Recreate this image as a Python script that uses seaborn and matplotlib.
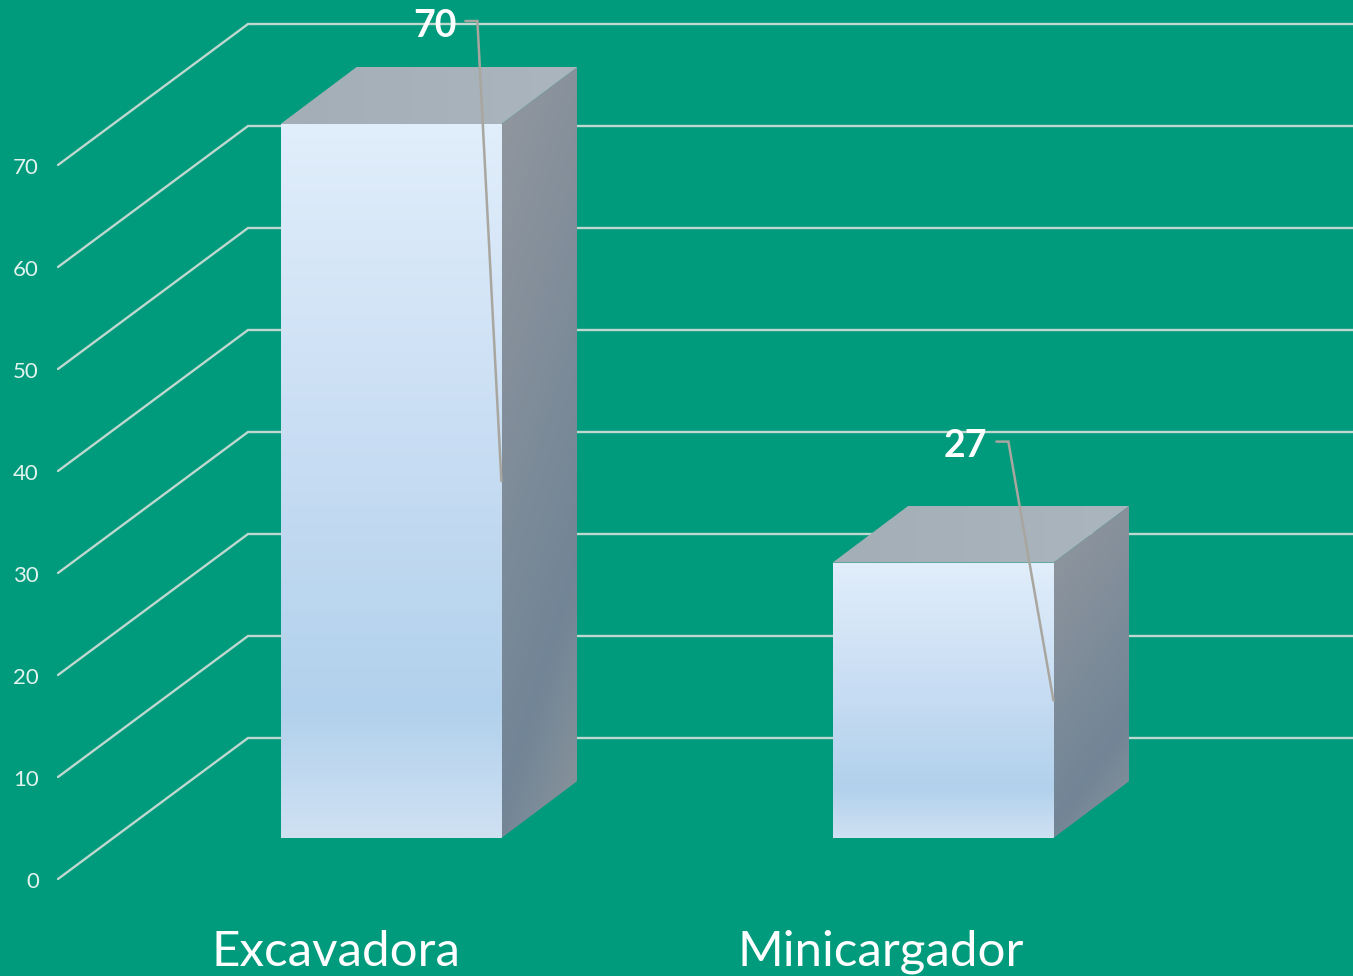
import numpy as np
import pandas as pd
import matplotlib.pyplot as plt
from matplotlib.colors import LinearSegmentedColormap
from matplotlib.patches import Polygon
import seaborn as sns

# Values
categories = ['Excavadora', 'Minicargador']
values = [70, 27]
axis_ticks = [0, 10, 20, 30, 40, 50, 60, 70]

bg = '#009B7C'
grid_color = '#BFD8CF'
leader_color = '#A9A6A0'

sns.set_theme(style='white', font='Lato')
plt.rcParams['font.family'] = ['Lato', 'DejaVu Sans']

W, H = 1353, 976
fig = plt.figure(figsize=(W / 100, H / 100), dpi=100, facecolor=bg)
ax = fig.add_axes([0, 0, 1, 1])

df = pd.DataFrame({'category': categories, 'value': values})
sns.barplot(data=df, x='category', y='value', width=0.4, color='#CBDFF4', ax=ax, zorder=3, linewidth=0)

# scale: one category step = 552 px, ten units = 102 px
xstep, ystep = 552.0, 10.2
ax.set_xlim(-391 / xstep, (W - 391) / xstep)
ax.set_ylim((838 - H) / ystep, 838 / ystep)
ax.axis('off')

# depth of the fake 3D box and of the walls
box_dx, box_dy = 76 / xstep, 57 / ystep
wall_dx, wall_dy = 190 / xstep, 141 / ystep
wall_x0, wall_y0 = (58 - 391) / xstep, (838 - 879) / ystep

for t in axis_ticks:
    x1, y1 = wall_x0 + wall_dx, wall_y0 + t + wall_dy
    ax.plot([wall_x0, x1, (W - 391) / xstep], [wall_y0 + t, y1, y1],
            color=grid_color, lw=1.7, zorder=1, solid_joinstyle='miter')
    ax.text(wall_x0 - 19 / xstep, wall_y0 + t - 0.3, str(t), color='#E4F3EE', fontsize=16,
            ha='right', va='center', zorder=5)

front_cmap = LinearSegmentedColormap.from_list(
    'front', [(0, '#E1EEFB'), (0.4, '#CBDFF4'), (0.82, '#B2D1EC'), (1, '#CFE1F3')])
side_cmap = LinearSegmentedColormap.from_list(
    'side', [(0, '#90969E'), (0.72, '#728596'), (1, '#8A949B')])
top_cmap = LinearSegmentedColormap.from_list('top', ['#A3AEB6', '#ABB5BD'])

label_gap = [24, 45]
label_shift = [-55, -62]
for bar, v, cat, gap, shift in zip(ax.patches, values, categories, label_gap, label_shift):
    x0 = bar.get_x()
    x1 = x0 + bar.get_width()

    # front face gradient
    grad = np.linspace(0, 1, 256).reshape(-1, 1)
    im = ax.imshow(grad, cmap=front_cmap, extent=[x0, x1, 0, v], origin='upper',
                   aspect='auto', zorder=3.2)
    im.set_clip_path(bar)

    # side face, diagonal gradient
    side = Polygon([(x1, 0), (x1 + box_dx, box_dy), (x1 + box_dx, v + box_dy), (x1, v)],
                   closed=True, fc='none', ec='none', transform=ax.transData)
    ax.add_patch(side)
    u, w = np.meshgrid(np.linspace(0, 1, 64), np.linspace(0, 1, 256))
    im = ax.imshow(np.clip(0.8 * w + 0.2 * u - 0.05 * (1 - u), 0, 1), cmap=side_cmap,
                   extent=[x1, x1 + box_dx, 0, v + box_dy], origin='upper',
                   aspect='auto', zorder=3)
    im.set_clip_path(side)

    # top face
    top = Polygon([(x0, v), (x0 + box_dx, v + box_dy), (x1 + box_dx, v + box_dy), (x1, v)],
                  closed=True, fc='none', ec='none', transform=ax.transData)
    ax.add_patch(top)
    im = ax.imshow(np.linspace(0, 1, 64).reshape(1, -1), cmap=top_cmap,
                   extent=[x0, x1 + box_dx, v, v + box_dy], aspect='auto', zorder=3)
    im.set_clip_path(top)

    # leader line from the label to half height of the bar
    elbow_x = x1 - gap / xstep
    elbow_y = v + 103 / ystep if v > 50 else v + 121 / ystep
    ax.plot([elbow_x - 12 / xstep, elbow_x, x1], [elbow_y, elbow_y, v / 2],
            color=leader_color, lw=1.8, zorder=4, solid_joinstyle='miter')
    ax.text(elbow_x - 21 / xstep, elbow_y - 0.45, str(v), color='white', fontsize=27,
            fontweight='bold', ha='right', va='center', zorder=5)

    # category label
    ax.text((x0 + x1) / 2 + shift / xstep, -11.2, cat, color='white', fontsize=35.5,
            ha='center', va='center', zorder=5)

ax.set_xlim(-391 / xstep, (W - 391) / xstep)
ax.set_ylim((838 - H) / ystep, 838 / ystep)

fig.savefig('out.png', dpi=100, facecolor=bg)
plt.close()
